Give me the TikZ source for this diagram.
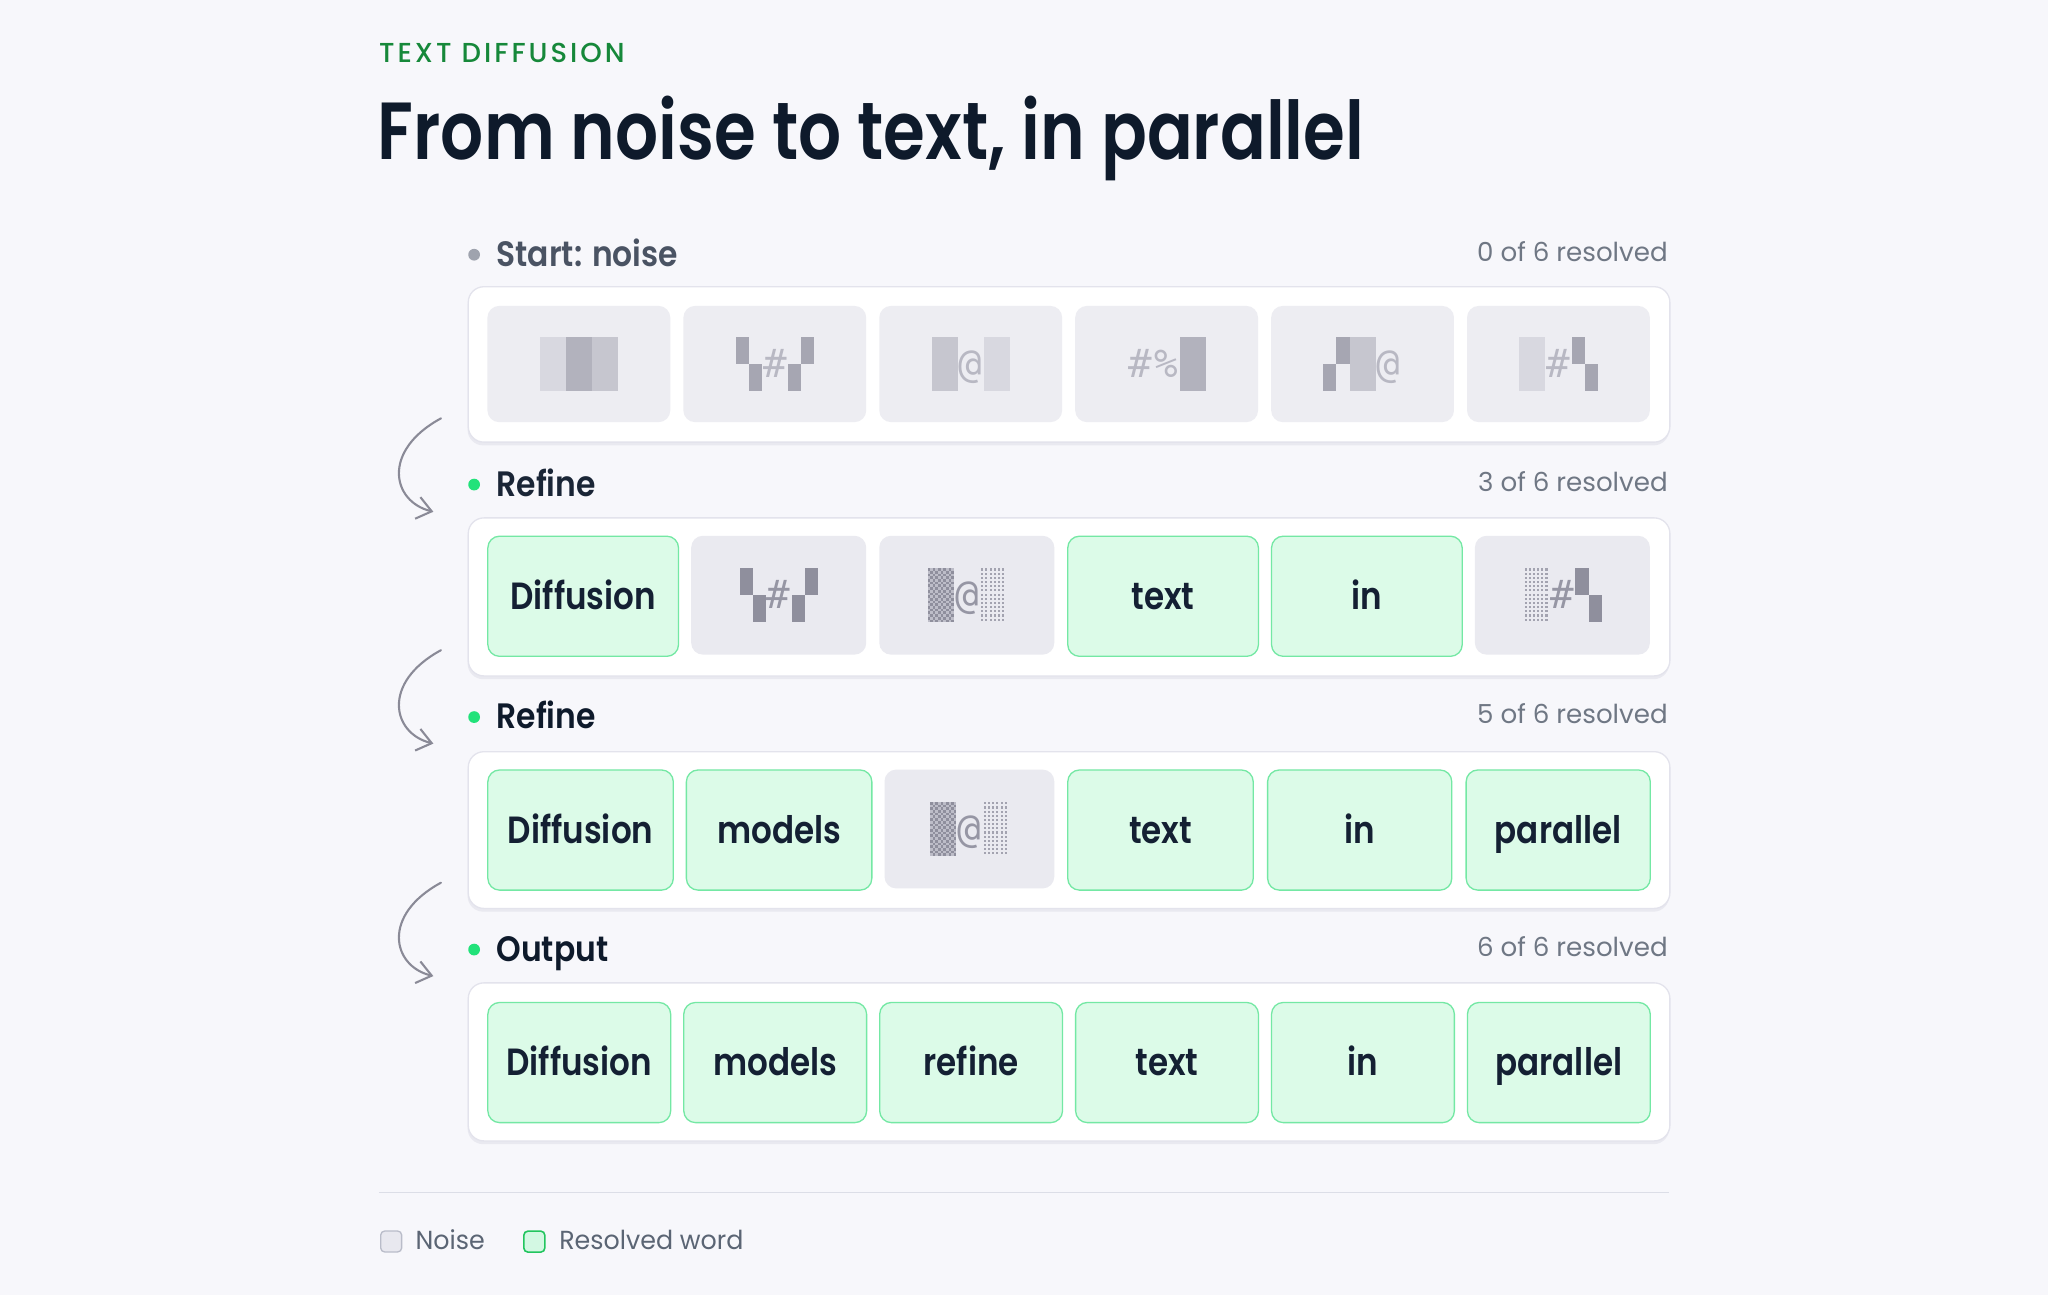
\documentclass[tikz,border=0pt]{standalone}
\usepackage{fontspec}
\setmainfont{Poppins}
\newfontfamily\fsemi{Poppins SemiBold}[FakeStretch=0.835]
\newfontfamily\fsemilab{Poppins SemiBold}[FakeStretch=0.89]
\newfontfamily\fsemitile{Poppins SemiBold}[FakeStretch=0.86]
\newfontfamily\fmedls{Poppins Medium}[FakeStretch=1.0,LetterSpace=11]
\newfontfamily\freg{Poppins}[FakeStretch=1.0]
\newfontfamily\freglg{Poppins}[FakeStretch=0.97]
\newfontfamily\fmono{DejaVu Sans Mono}
\usetikzlibrary{arrows.meta}
\definecolor{bgc}{HTML}{F7F7FB}
\definecolor{panelborder}{HTML}{E3E3EC}
\definecolor{shadowc}{HTML}{E9E9F0}
\definecolor{noisefill}{HTML}{EAEAF0}
\definecolor{noisefillA}{HTML}{EDEDF2}
\definecolor{resfill}{HTML}{DCFBE8}
\definecolor{resborder}{HTML}{74E8A4}
\definecolor{dotgreen}{HTML}{22E27A}
\definecolor{dotgray}{HTML}{9FA3AE}
\definecolor{titlec}{HTML}{0E1A2B}
\definecolor{eyebrowc}{HTML}{16883A}
\definecolor{labelA}{HTML}{4A5363}
\definecolor{labelc}{HTML}{1A2536}
\definecolor{counterc}{HTML}{6F7784}
\definecolor{tiletext}{HTML}{142033}
\definecolor{arrowcol}{HTML}{8A8A97}
\definecolor{sepc}{HTML}{DCDEE7}
\definecolor{legtext}{HTML}{5B6574}
\definecolor{nlA}{HTML}{D8D8E0}
\definecolor{ndA}{HTML}{B2B2BD}
\definecolor{nmA}{HTML}{C6C6CF}
\definecolor{nqA}{HTML}{A6A6B2}
\definecolor{ncA}{HTML}{B8B8C3}
\definecolor{nqB}{HTML}{8F8F9D}
\definecolor{ncB}{HTML}{9696A4}
\definecolor{ndotB}{HTML}{A3A3B0}
\definecolor{ndkbg}{HTML}{BDBDC8}
\definecolor{legnoisefill}{HTML}{E8E8EF}
\definecolor{legnoisedraw}{HTML}{B9BCC9}
\definecolor{legresfill}{HTML}{D3F8E3}
\definecolor{legresdraw}{HTML}{22C55E}
% glyph helpers (local coords: cell left x = #1)
\newcommand\gQA[2]{\fill[#2] (#1,-20.75) rectangle ++(10,20.75); \fill[#2] ({#1+10},0) rectangle ++(10,20.75);}
\newcommand\gQB[2]{\fill[#2] ({#1+10},-20.75) rectangle ++(10,20.75); \fill[#2] (#1,0) rectangle ++(10,20.75);}
\newcommand\gBlk[2]{\fill[#2] (#1,-20.75) rectangle ++(20,41.5);}
\newcommand\gChr[4]{\node[inner sep=0pt, anchor=base, text=#2, font=\fmono\fontsize{30}{30}\selectfont] (#4) at ({#1+10},10.5) {#3};}
\newcommand\gLight[2]{\foreach \i in {0,...,5}{\foreach \j in {0,...,12}{\fill[#2] ({#1+1+\i*3.2},{-20.5+\j*3.2}) rectangle ++(1.6,1.6);}}}
\newcommand\gDark[3]{\fill[#2] (#1,-20.75) rectangle ++(20,41.5);
  \foreach \j in {0,...,19}{\foreach \i in {0,...,4}{\pgfmathsetmacro\gxx{#1+\i*4+mod(\j,2)*2}\fill[#3] (\gxx,{-20.75+\j*2.075}) rectangle ++(2,2.075);}}}
\tikzset{
  panel/.style={fill=white, draw=panelborder, line width=1pt, rounded corners=12pt, inner sep=0pt, minimum width=920pt, anchor=north west},
  panelshadow/.style={fill=shadowc, rounded corners=12pt},
  restile/.style={fill=resfill, draw=resborder, line width=1pt, rounded corners=9pt, inner sep=0pt, text=tiletext, font=\fsemitile\fontsize{29}{29}\selectfont, text height=20pt, text depth=0pt, minimum height=92pt, anchor=north west},
  noisetile/.style={fill=noisefill, rounded corners=9pt, inner sep=0pt, minimum height=91pt, anchor=north west},
  noisetileA/.style={fill=noisefillA, rounded corners=9pt, inner sep=0pt, minimum height=89pt, minimum width=140pt, anchor=north west},
  steplabel/.style={anchor=base west, inner sep=0pt, font=\fsemilab\fontsize{27}{27}\selectfont, text=labelc},
  counter/.style={anchor=base east, inner sep=0pt, font=\freg\fontsize{20}{20}\selectfont, text=counterc},
  stepdot/.style={circle, fill=dotgreen, minimum size=9pt, inner sep=0pt},
  arrowc/.style={draw=arrowcol, line width=1.6pt, line cap=round, -{Straight Barb[length=11pt,width=17pt]}},
  legtxt/.style={anchor=base west, inner sep=0pt, font=\freglg\fontsize{20}{20}\selectfont, text=legtext}
}
\begin{document}
\begin{tikzpicture}[x=1pt,y=-1pt]
\useasboundingbox (0,0) rectangle (1568,991.4);
\fill[bgc] (0,0) rectangle (1568,991.4);
% heading
\node[anchor=base west, inner sep=0pt, font=\fmedls\fontsize{21}{21}\selectfont, text=eyebrowc] (eyebrow) at (290,48) {TEXT DIFFUSION};
\node[anchor=base west, inner sep=0pt, font=\fsemi\fontsize{62}{62}\selectfont, text=titlec] (title) at (289,122) {From noise to text, in parallel};
% step headers
\node[stepdot, fill=dotgray] (d1) at (363,195) {};
\node[steplabel, text=labelA] (l1) at (380,204) {Start: noise};
\node[counter] (c1) at (1277,200) {0 of 6 resolved};
\node[stepdot] (d2) at (363,371) {};
\node[steplabel] (l2) at (380,380) {Refine};
\node[counter] (c2) at (1277,376) {3 of 6 resolved};
\node[stepdot] (d3) at (363,549) {};
\node[steplabel, text=titlec] (l3) at (380,558) {Refine};
\node[counter] (c3) at (1277,554) {5 of 6 resolved};
\node[stepdot] (d4) at (363,727) {};
\node[steplabel, text=titlec] (l4) at (380,736) {Output};
\node[counter] (c4) at (1277,732) {6 of 6 resolved};
% panels
\fill[panelshadow] (358,222) rectangle (1278,341);
\node[panel, minimum height=119pt] (p1) at (358,219) {};
\fill[panelshadow] (358,399) rectangle (1278,520);
\node[panel, minimum height=121pt] (p2) at (358,396) {};
\fill[panelshadow] (358,578) rectangle (1278,698);
\node[panel, minimum height=120pt] (p3) at (358,575) {};
\fill[panelshadow] (358,755) rectangle (1278,876);
\node[panel, minimum height=121pt] (p4) at (358,752) {};
% row 1 (noise)
\node[noisetileA] (r1a) at (373,234) {};
\node[noisetileA] (r1b) at (523,234) {};
\node[noisetileA] (r1c) at (673,234) {};
\node[noisetileA] (r1d) at (823,234) {};
\node[noisetileA] (r1e) at (973,234) {};
\node[noisetileA] (r1f) at (1123,234) {};
\begin{scope}[shift={(r1a.center)}]\gBlk{-30}{nlA}\gBlk{-10}{ndA}\gBlk{10}{nmA}\end{scope}
\begin{scope}[shift={(r1b.center)}]\gQA{-30}{nqA}\gChr{-10}{ncA}{\#}{r1bh}\gQB{10}{nqA}\end{scope}
\begin{scope}[shift={(r1c.center)}]\gBlk{-30}{nmA}\gChr{-10}{ncA}{@}{r1ca}\gBlk{10}{nlA}\end{scope}
\begin{scope}[shift={(r1d.center)}]\gChr{-30}{ncA}{\#}{r1dh}\gChr{-10}{ncA}{\%}{r1dp}\gBlk{10}{ndA}\end{scope}
\begin{scope}[shift={(r1e.center)}]\gQB{-30}{nqA}\gBlk{-10}{nmA}\gChr{10}{ncA}{@}{r1ea}\end{scope}
\begin{scope}[shift={(r1f.center)}]\gBlk{-30}{nlA}\gChr{-10}{ncA}{\#}{r1fh}\gQA{10}{nqA}\end{scope}
% row 2
\node[restile, minimum width=146pt] (r2a) at (373,410) {Diffusion};
\node[noisetile, minimum width=134pt] (r2b) at (529,410) {};
\node[noisetile, minimum width=134pt] (r2c) at (673,410) {};
\node[restile, minimum width=146pt] (r2d) at (817,410) {text};
\node[restile, minimum width=146pt] (r2e) at (973,410) {in};
\node[noisetile, minimum width=134pt] (r2f) at (1129,410) {};
\begin{scope}[shift={(r2b.center)}]\gQA{-30}{nqB}\gChr{-10}{ncB}{\#}{r2bh}\gQB{10}{nqB}\end{scope}
\begin{scope}[shift={(r2c.center)}]\gDark{-30}{ndkbg}{nqB}\gChr{-10}{ncB}{@}{r2ca}\gLight{10}{ndotB}\end{scope}
\begin{scope}[shift={(r2f.center)}]\gLight{-30}{ndotB}\gChr{-10}{ncB}{\#}{r2fh}\gQA{10}{nqB}\end{scope}
% row 3
\node[restile, minimum width=142pt] (r3a) at (373,589) {Diffusion};
\node[restile, minimum width=142pt] (r3b) at (525,589) {models};
\node[noisetile, minimum width=130pt] (r3c) at (677,589) {};
\node[restile, minimum width=142pt] (r3d) at (817,589) {text};
\node[restile, minimum width=141pt] (r3e) at (970,589) {in};
\node[restile, minimum width=141pt] (r3f) at (1122,589) {parallel};
\begin{scope}[shift={(r3c.center)}]\gDark{-30}{ndkbg}{nqB}\gChr{-10}{ncB}{@}{r3ca}\gLight{10}{ndotB}\end{scope}
% row 4
\node[restile, minimum width=140pt] (r4a) at (373,767) {Diffusion};
\node[restile, minimum width=140pt] (r4b) at (523,767) {models};
\node[restile, minimum width=140pt] (r4c) at (673,767) {refine};
\node[restile, minimum width=140pt] (r4d) at (823,767) {text};
\node[restile, minimum width=140pt] (r4e) at (973,767) {in};
\node[restile, minimum width=140pt] (r4f) at (1123,767) {parallel};
% arrows
\coordinate (a1s) at (337.6,320.3); \coordinate (a1e) at (331.8,391.8);
\coordinate (a2s) at (337.6,497.8); \coordinate (a2e) at (331.8,569.3);
\coordinate (a3s) at (337.6,675.8); \coordinate (a3e) at (331.8,747.3);
\draw[arrowc] (a1s) .. controls (292,345) and (300,384) .. (a1e);
\draw[arrowc] (a2s) .. controls (292,522.5) and (300,561.5) .. (a2e);
\draw[arrowc] (a3s) .. controls (292,700.5) and (300,739.5) .. (a3e);
% separator and legend
\coordinate (s1) at (290,913); \coordinate (s2) at (1278,913);
\draw[sepc, line width=1.5pt] (s1) -- (s2);
\node[fill=legnoisefill, draw=legnoisedraw, line width=1pt, rounded corners=3pt, minimum size=16pt, inner sep=0pt, anchor=north west] (lnb) at (291,942) {};
\node[legtxt] (lnt) at (318,957) {Noise};
\node[fill=legresfill, draw=legresdraw, line width=1.2pt, rounded corners=3pt, minimum size=16pt, inner sep=0pt, anchor=north west] (lrb) at (400.5,942) {};
\node[legtxt] (lrt) at (428,957) {Resolved word};
\end{tikzpicture}
\end{document}
